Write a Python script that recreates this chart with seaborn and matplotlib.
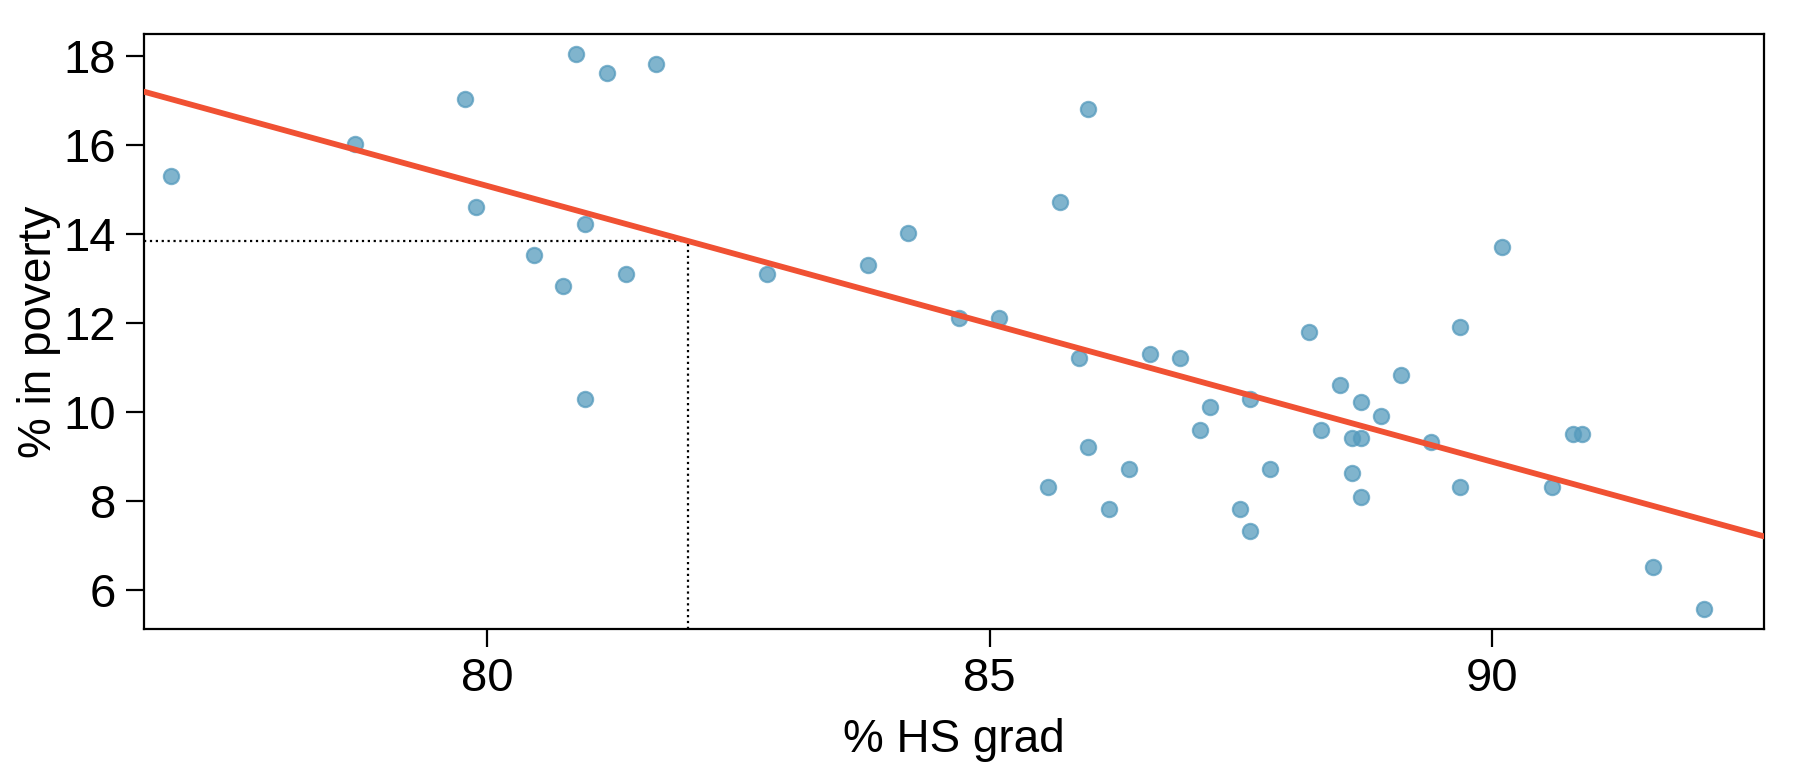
import seaborn as sns
import matplotlib.pyplot as plt
import pandas as pd

# --- Data: % HS grad vs % in poverty (51 states) ---
hs_grad = [76.86, 78.69, 79.78, 79.89, 80.89, 81.19, 81.68, 80.98, 80.47, 80.76,
           81.38, 80.98, 82.79, 83.79, 84.19, 84.69, 85.09, 85.70, 85.98, 85.89,
           86.59, 86.89, 85.98, 85.58, 86.19, 86.39, 87.19, 87.09, 87.59, 87.49,
           87.59, 87.79, 88.18, 88.29, 88.48, 88.69, 88.60, 88.69, 88.89, 89.09,
           88.60, 88.69, 89.39, 89.68, 90.09, 89.68, 90.80, 90.89, 90.59, 91.60,
           92.10]
poverty = [15.30, 16.03, 17.02, 14.60, 18.03, 17.61, 17.82, 14.22, 13.52, 12.82,
           13.10, 10.30, 13.10, 13.31, 14.01, 12.12, 12.12, 14.71, 16.81, 11.21,
           11.31, 11.21, 9.21, 8.31, 7.81, 8.72, 10.12, 9.60, 10.30, 7.81,
           7.32, 8.72, 11.80, 9.60, 10.61, 10.22, 9.42, 9.42, 9.91, 10.82,
           8.62, 8.10, 9.32, 11.91, 13.70, 8.31, 9.50, 9.50, 8.31, 6.52,
           5.58]

# least squares line and the highlighted prediction
intercept = 64.68
slope = -0.62
x_pred = 82

df = pd.DataFrame({'hs_grad': hs_grad, 'poverty': poverty})

sns.set_style("white")
plt.rcParams['font.family'] = ['Liberation Sans', 'DejaVu Sans']
plt.rcParams['text.color'] = 'black'
plt.rcParams['axes.labelcolor'] = 'black'
plt.rcParams['xtick.color'] = 'black'
plt.rcParams['ytick.color'] = 'black'

fig = plt.figure(figsize=(9, 3.865), dpi=200)
ax = fig.add_axes([0.08, 0.186, 0.9, 0.77])

xlim = (76.59, 92.7)
ylim = (5.12, 18.49)

sns.scatterplot(data=df, x='hs_grad', y='poverty', ax=ax, s=30,
                color='#569BBD', alpha=0.75, edgecolor='#569BBD',
                linewidth=0.8, zorder=3)

# regression line across the full plot width
line_df = pd.DataFrame({'x': list(xlim)})
line_df['y'] = intercept + slope * line_df['x']
sns.lineplot(data=line_df, x='x', y='y', ax=ax, color='#F05133',
             linewidth=2.1, zorder=4)

# dotted guides at x = 82
y_pred = intercept + slope * x_pred
ax.plot([xlim[0], x_pred], [y_pred, y_pred], color='black', linestyle=':',
        linewidth=0.8, zorder=2)
ax.plot([x_pred, x_pred], [ylim[0], y_pred], color='black', linestyle=':',
        linewidth=0.8, zorder=2)

ax.set_xlim(xlim)
ax.set_ylim(ylim)
ax.set_xticks([80, 85, 90])
ax.set_yticks([6, 8, 10, 12, 14, 16, 18])
ax.tick_params(axis='both', direction='out', length=6.5, width=0.8,
               labelsize=17, left=True, bottom=True, colors='black')
for sp in ax.spines.values():
    sp.set_color('black')
    sp.set_linewidth(0.8)

ax.set_xlabel('% HS grad', fontsize=16.5, labelpad=6)
ax.set_ylabel('% in poverty', fontsize=16.5, labelpad=1)

plt.savefig('out.png', dpi=200)
